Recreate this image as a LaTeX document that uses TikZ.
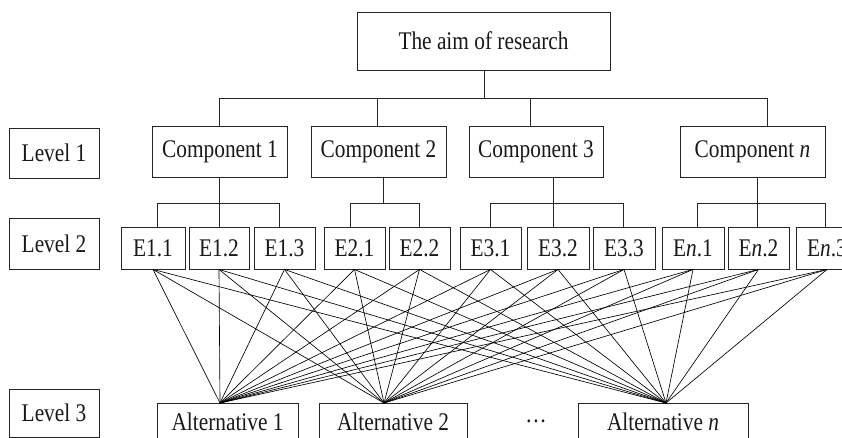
\documentclass[tikz,border=0pt]{standalone}
\usepackage{fontspec}
\setmainfont{Liberation Serif}[FakeStretch=0.84]
\begin{document}
\begin{tikzpicture}[x=1pt,y=-1pt,
  box/.style={draw=black!85, line width=0.9pt, inner sep=0pt, fill=white,
    font=\fontsize{25.4}{30}\selectfont, text=black!90},
  tree/.style={line width=0.8pt, draw=black!85},
  link/.style={line width=0.65pt, draw=black}]
\useasboundingbox (0,0) rectangle (842,438);
\clip (0,0) rectangle (842,438);

% top
\node[box, minimum width=253pt, minimum height=58pt] (aim) at (483.5,41) {The aim of research};

% level labels
\node[box, minimum width=90pt, minimum height=50pt] (L1) at (54,153) {Level 1};
\node[box, minimum width=90pt, minimum height=51pt] (L2) at (54,243.5) {Level 2};
\node[box, minimum width=90pt, minimum height=48pt] (L3) at (54,413) {Level 3};

% components
\node[box, minimum width=135pt, minimum height=51pt] (C1) at (220,151.5) {Component 1};
\node[box, minimum width=135pt, minimum height=51pt] (C2) at (378.5,151.5) {Component 2};
\node[box, minimum width=134pt, minimum height=51pt] (C3) at (536,151.5) {Component 3};
\node[box, minimum width=145pt, minimum height=51pt] (Cn) at (752.5,151.5) {Component \textit{n}};

% elements
\foreach \nm/\cx/\w/\t in {E11/153/64/E1.1, E12/219/60/E1.2, E13/284.5/61/E1.3,
  E21/354.5/61/E2.1, E22/419.5/61/E2.2,
  E31/490.5/61/E3.1, E32/558/62/E3.2, E33/624/62/E3.3,
  En1/693/62/E\textit{n}.1, En2/758.5/61/E\textit{n}.2, En3/827/62/E\textit{n}.3}{
  \node[box, minimum width=\w pt, minimum height=41.5pt] (\nm) at (\cx,248.25) {\t};
}

% alternatives
\node[box, minimum width=141pt, minimum height=38pt] (A1) at (227.5,422) {Alternative 1};
\node[box, minimum width=148pt, minimum height=38pt] (A2) at (393,422) {Alternative 2};
\node[box, minimum width=170pt, minimum height=38pt] (An) at (663,422) {Alternative \textit{n}};
\node[font=\fontsize{25.4}{30}\selectfont, text=black!90, inner sep=0pt] (dots) at (536,421) {\dots};

% tree connectors, level 0 -> 1
\coordinate (b0) at (484,98);
\coordinate (d1) at (219,98);
\coordinate (d2) at (377,98);
\coordinate (d3) at (530,98);
\coordinate (dn) at (767,98);
\draw[tree] (aim.south -| b0) -- (b0);
\draw[tree] (d1) -- (dn);
\draw[tree] (d1) -- (d1 |- C1.north);
\draw[tree] (d2) -- (d2 |- C2.north);
\draw[tree] (d3) -- (d3 |- C3.north);
\draw[tree] (dn) -- (dn |- Cn.north);

% level 1 -> 2
\coordinate (m1) at (219,203);
\coordinate (m2) at (383,203);
\coordinate (m3) at (553,203);
\coordinate (mn) at (757,203);
\coordinate (e11) at (157,203);
\coordinate (e13) at (279,203);
\coordinate (e21) at (350,203);
\coordinate (e22) at (419,203);
\coordinate (e31) at (490,203);
\coordinate (e33) at (623,203);
\coordinate (en1) at (697,203);
\coordinate (en3) at (825,203);

\draw[tree] (m1 |- C1.south) -- (m1 |- E12.north);
\draw[tree] (e11) -- (e13);
\draw[tree] (e11) -- (e11 |- E11.north);
\draw[tree] (e13) -- (e13 |- E13.north);

\draw[tree] (m2 |- C2.south) -- (m2);
\draw[tree] (e21) -- (e22);
\draw[tree] (e21) -- (e21 |- E21.north);
\draw[tree] (e22) -- (e22 |- E22.north);

\draw[tree] (m3 |- C3.south) -- (m3 |- E32.north);
\draw[tree] (e31) -- (e33);
\draw[tree] (e31) -- (e31 |- E31.north);
\draw[tree] (e33) -- (e33 |- E33.north);

\draw[tree] (mn |- Cn.south) -- (mn |- En2.north);
\draw[tree] (en1) -- (en3);
\draw[tree] (en1) -- (en1 |- En1.north);
\draw[tree] (en3) -- (en3 |- En3.north);

% level 2 -> 3
\coordinate (p1) at (220,403);
\coordinate (p2) at (384,403);
\coordinate (pn) at (666,403);
\foreach \e in {E11,E12,E13,E21,E22,E31,E32,E33,En1,En2,En3}{
  \foreach \a in {p1,p2,pn}{
    \draw[link] (\e.south) -- (\a);
  }
}
\end{tikzpicture}
\end{document}
